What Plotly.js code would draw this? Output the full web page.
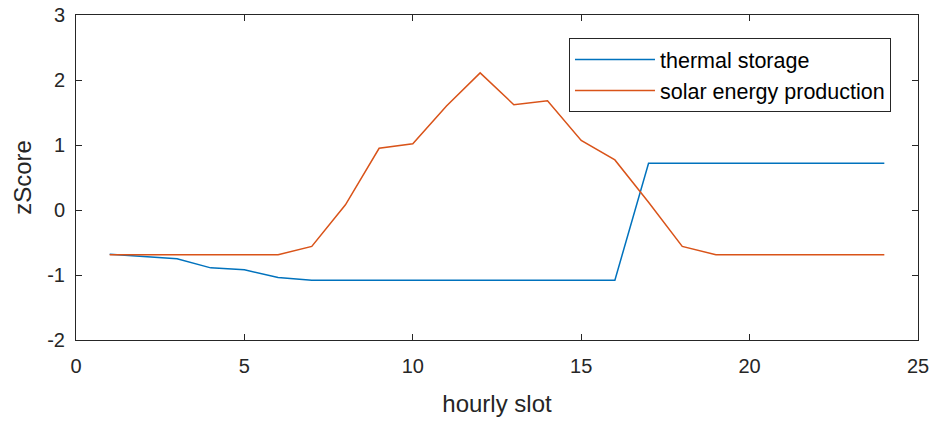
<!DOCTYPE html>
<html>
<head>
<meta charset="utf-8">
<script src="https://cdn.plot.ly/plotly-3.0.1.min.js"></script>
<style>
  html, body { margin: 0; padding: 0; background: #ffffff; }
  #chart { width: 938px; height: 421px; }
</style>
</head>
<body>
<div id="chart"></div>
<script>
// Hourly slots 1..24
const hours = [1,2,3,4,5,6,7,8,9,10,11,12,13,14,15,16,17,18,19,20,21,22,23,24];

// z-scored series
const thermalStorage = [-0.68,-0.72,-0.75,-0.89,-0.92,-1.04,-1.08,-1.08,-1.08,-1.08,-1.08,-1.08,
                        -1.08,-1.08,-1.08,-1.08,0.72,0.72,0.72,0.72,0.72,0.72,0.72,0.72];
const solarProduction = [-0.69,-0.69,-0.69,-0.69,-0.69,-0.69,-0.56,0.08,0.95,1.02,1.60,2.11,
                         1.62,1.68,1.07,0.77,0.12,-0.56,-0.69,-0.69,-0.69,-0.69,-0.69,-0.69];

const seriesNames = ['thermal storage', 'solar energy production'];
const xTicks = [0, 5, 10, 15, 20, 25];
const yTicks = [-2, -1, 0, 1, 2, 3];

const axisColor = '#262626';
const font = 'Liberation Sans, Arial, Helvetica, sans-serif';

const traces = [
  { x: hours, y: thermalStorage, name: seriesNames[0], type: 'scatter', mode: 'lines',
    line: { color: '#0072BD', width: 1.5 } },
  { x: hours, y: solarProduction, name: seriesNames[1], type: 'scatter', mode: 'lines',
    line: { color: '#D95319', width: 1.5 } }
];

const axisCommon = {
  showline: true, linecolor: axisColor, linewidth: 1, mirror: 'ticks',
  ticks: 'inside', ticklen: 6, tickcolor: axisColor, tickwidth: 1,
  showgrid: false, zeroline: false,
  tickfont: { family: font, size: 20, color: axisColor }
};

const layout = {
  width: 938, height: 421,
  margin: { l: 76, r: 20, t: 15, b: 81 },
  paper_bgcolor: '#ffffff', plot_bgcolor: '#ffffff',
  showlegend: true,
  legend: {
    x: 0.5855, y: 0.929, xanchor: 'left', yanchor: 'top',
    bordercolor: axisColor, borderwidth: 1, bgcolor: '#ffffff',
    font: { family: font, size: 21.5, color: '#000000' },
    itemwidth: 80, tracegroupgap: 0
  },
  xaxis: Object.assign({}, axisCommon, {
    range: [0, 25], tickvals: xTicks, ticktext: xTicks.map(String),
    ticklabelstandoff: 8,
    title: { text: 'hourly slot', font: { family: font, size: 24, color: axisColor }, standoff: 19 }
  }),
  yaxis: Object.assign({}, axisCommon, {
    range: [-2, 3], tickvals: yTicks, ticktext: yTicks.map(String),
    ticklabelstandoff: 6,
    title: { text: 'zScore', font: { family: font, size: 24, color: axisColor }, standoff: 8 }
  })
};

Plotly.newPlot('chart', traces, layout, { displayModeBar: false, staticPlot: true });
</script>
</body>
</html>
